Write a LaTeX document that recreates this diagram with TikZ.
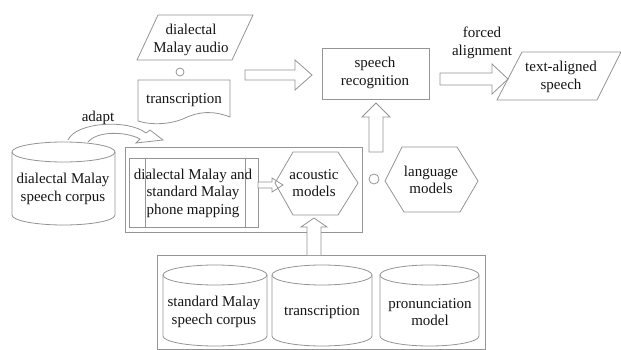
\documentclass[tikz,border=0pt]{standalone}
\usepackage{fontspec}
\setmainfont{Liberation Serif}
\begin{document}
\begin{tikzpicture}[x=1pt,y=1pt,
  ln/.style={draw=black!42,line width=0.8pt},
  blk/.style={ln,fill=white},
  txt/.style={align=center,text=black!92,font=\rmfamily\fontsize{15}{17.5}\selectfont,inner sep=0pt}]
\newcommand\mycyl[5]{%
  \pgfmathsetmacro\cxc{(#1+#2)/2}\pgfmathsetmacro\crx{(#2-#1)/2}%
  \draw[ln] (\cxc,-#3-#5) ellipse [x radius=\crx, y radius=#5];
  \draw[ln] (#1,-#3-#5) -- (#1,-#4+#5) arc[start angle=180,end angle=360,x radius=\crx,y radius=#5] -- (#2,-#3-#5);}
\useasboundingbox (0,0) rectangle (621,-350);
% audio parallelogram
\draw[ln] (158,-15) -- (253,-15) -- (232,-60) -- (137,-60) -- cycle;
\node[txt] (audio) at (191,-40) {dialectal\\Malay audio};
\draw[ln] (180,-72) circle (4pt);
% transcription document
\draw[ln] (138,-80) -- (230,-80) -- (230,-117) .. controls (212,-110) and (198,-112) .. (185,-118) .. controls (170,-125) and (150,-125) .. (138,-121) -- cycle;
\node[txt] (trans) at (184,-100) {transcription};
% arrow audio -> speech recognition
\draw[blk] (245,-70) -- (295,-70) -- (295,-60) -- (312,-75) -- (295,-90) -- (295,-80) -- (245,-80) -- cycle;
% speech recognition
\draw[ln] (322,-48) rectangle (429,-99);
\node[txt] (sr) at (375,-73) {speech\\recognition};
% forced alignment arrow
\draw[blk] (440,-73) -- (492,-73) -- (492,-64) -- (508,-79) -- (492,-94) -- (492,-85) -- (440,-85) -- cycle;
\node[txt] (fa) at (482,-43) {forced\\alignment};
% text-aligned speech
\draw[ln] (522,-52) -- (621,-52) -- (597,-100) -- (497,-100) -- cycle;
\node[txt] (tas) at (561,-77) {text-aligned\\speech};
% up arrow to SR
\draw[blk] (369,-152) -- (369,-117) -- (362,-117) -- (376,-103) -- (390,-117) -- (383,-117) -- (383,-152) -- cycle;
% adapt
\node[txt] (adapt) at (98,-118) {adapt};
\draw[ln] (68,-140) .. controls (76,-122) and (128,-119) .. (146,-133) -- (150,-130) -- (163,-140) -- (136,-143) -- (140,-139) .. controls (125,-131) and (97,-131) .. (88,-142);
% dialectal corpus cylinder
\mycyl{12}{115}{142}{225}{10}
\node[txt] (dcorp) at (63,-189) {dialectal Malay\\speech corpus};
% top enclosing rect
\draw[ln] (125,-147) rectangle (362,-232);
% mapping box
\draw[ln] (129,-158) rectangle (258,-227);
\draw[ln] (145,-158) -- (145,-227) (245,-158) -- (245,-227);
\node[txt] (map) at (193,-193) {dialectal Malay and\\standard Malay\\phone mapping};
% small arrow
\draw[blk] (258,-182) -- (272,-182) -- (272,-178) -- (283,-185) -- (272,-192) -- (272,-188) -- (258,-188) -- cycle;
% acoustic models
\draw[ln] (275,-183) -- (293,-152) -- (338,-152) -- (358,-183) -- (338,-215) -- (293,-215) -- cycle;
\node[txt] (am) at (314,-183) {acoustic\\models};
% circle
\draw[ln] (374,-179) circle (5pt);
% language models
\draw[ln] (385,-181) -- (402,-147) -- (457,-147) -- (478,-181) -- (460,-212) -- (404,-212) -- cycle;
\node[txt] (lm) at (431,-180) {language\\models};
% bottom rect
\draw[ln] (157,-255) rectangle (485,-349);
% up arrow
\draw[blk] (307,-255) -- (307,-227) -- (301,-227) -- (314,-218) -- (327,-227) -- (321,-227) -- (321,-255);
% cylinders
\mycyl{163}{267}{265}{346}{10}
\node[txt] (scorp) at (214,-312) {standard Malay\\speech corpus};
\mycyl{272}{372}{265}{346}{10}
\node[txt] (strans) at (322,-312) {transcription};
\mycyl{380}{479}{265}{346}{10}
\node[txt] (pron) at (430,-312) {pronunciation\\model};
\end{tikzpicture}
\end{document}
